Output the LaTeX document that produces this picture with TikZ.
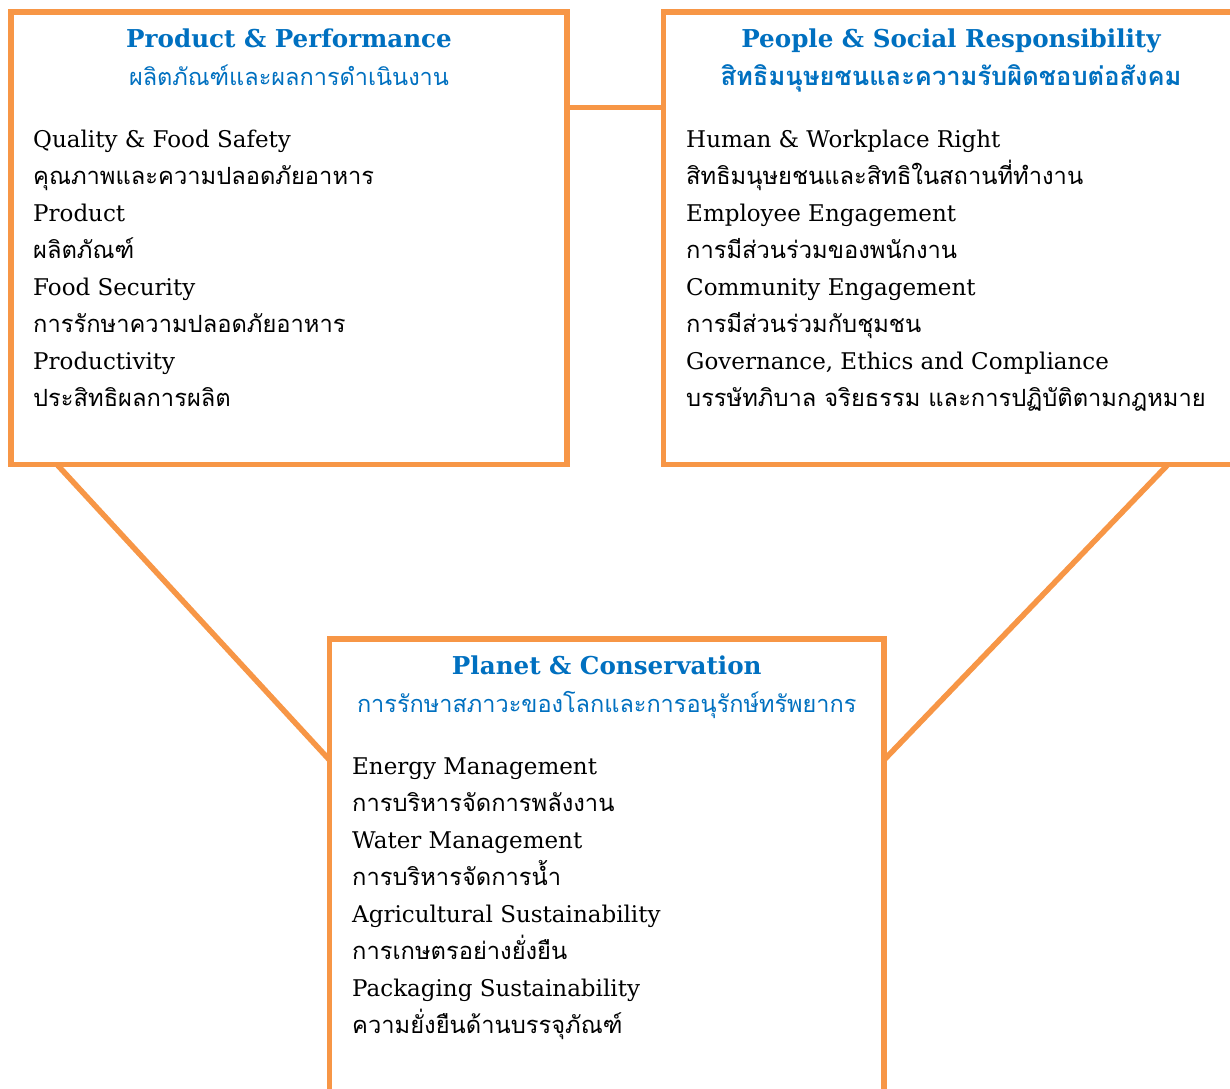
\documentclass[tikz,border=0pt]{standalone}
\usepackage{fontspec}
\setmainfont{DejaVu Serif}
\newfontfamily\thai[Script=Thai]{Loma}
\usetikzlibrary{calc}
\definecolor{borderorange}{HTML}{F79646}
\definecolor{titleblue}{HTML}{0070C0}
\tikzset{
  x=1pt, y=-1pt,
  box/.style={draw=borderorange, line width=5.5pt, fill=white, rectangle, outer sep=0pt, inner sep=0pt, anchor=north west},
  link/.style={draw=borderorange, line width=5.5pt},
  ttl/.style={font=\fontsize{24.6}{28}\selectfont\bfseries, text=titleblue, anchor=base, inner sep=0pt},
  sub/.style={font=\thai\fontsize{23.5}{26}\selectfont, text=titleblue, anchor=base, inner sep=0pt},
  en/.style={font=\fontsize{23}{26}\selectfont, anchor=base west, inner sep=0pt},
  th/.style={font=\thai\fontsize{23.7}{26}\selectfont, anchor=base west, inner sep=0pt},
}
\begin{document}
\begin{tikzpicture}
\useasboundingbox (0,0) rectangle (1230,1088);
\clip (0,0) rectangle (1230,1088);
\fill[white] (0,0) rectangle (1230,1088);
% boxes
\node[box, minimum width=556pt, minimum height=452.5pt] (b1) at (11,12) {};
\node[box, minimum width=575pt, minimum height=452.5pt] (b2) at (663.5,12) {};
\node[box, minimum width=554.5pt, minimum height=470pt] (b3) at (329.5,639) {};
% connectors
\coordinate (c1) at ($(b1.north east)+(0,95.5)$);
\draw[link] (c1) -- (c1 -| b2.west);
\coordinate (d1) at ($(b1.south west)+(46,0)$);
\coordinate (d2) at ($(b3.north west)+(0,121)$);
\draw[link] (d1) -- (d2);
\coordinate (e1) at ($(b2.south west)+(504.5,0)$);
\coordinate (e2) at ($(b3.north east)+(0,121)$);
\draw[link] (e1) -- (e2);
% box 1 text
\node[ttl] (t1) at ($(b1.north)+(0,35)$) {Product \& Performance};
\node[sub] (s1) at ($(b1.north)+(0,73)$) {ผลิตภัณฑ์และผลการดำเนินงาน};
\node[en] (a1) at ($(b1.north west)+(22,135)$) {Quality \& Food Safety};
\node[th] (a2) at ($(b1.north west)+(22,172)$) {คุณภาพและความปลอดภัยอาหาร};
\node[en] (a3) at ($(b1.north west)+(22,209)$) {Product};
\node[th] (a4) at ($(b1.north west)+(22,246)$) {ผลิตภัณฑ์};
\node[en] (a5) at ($(b1.north west)+(22,283)$) {Food Security};
\node[th] (a6) at ($(b1.north west)+(22,320)$) {การรักษาความปลอดภัยอาหาร};
\node[en] (a7) at ($(b1.north west)+(22,357)$) {Productivity};
\node[th] (a8) at ($(b1.north west)+(22,394)$) {ประสิทธิผลการผลิต};
% box 2 text
\coordinate (m2) at ($(b2.north west)+(287.5,0)$);
\node[ttl] (t2) at ($(m2)+(0,35)$) {People \& Social Responsibility};
\node[sub, font=\thai\fontsize{25.5}{28}\selectfont\bfseries] (s2) at ($(m2)+(0,73)$) {สิทธิมนุษยชนและความรับผิดชอบต่อสังคม};
\node[en] (p1) at ($(b2.north west)+(22.5,135)$) {Human \& Workplace Right};
\node[th] (p2) at ($(b2.north west)+(22.5,172)$) {สิทธิมนุษยชนและสิทธิในสถานที่ทำงาน};
\node[en] (p3) at ($(b2.north west)+(22.5,209)$) {Employee Engagement};
\node[th] (p4) at ($(b2.north west)+(22.5,246)$) {การมีส่วนร่วมของพนักงาน};
\node[en] (p5) at ($(b2.north west)+(22.5,283)$) {Community Engagement};
\node[th] (p6) at ($(b2.north west)+(22.5,320)$) {การมีส่วนร่วมกับชุมชน};
\node[en] (p7) at ($(b2.north west)+(22.5,357)$) {Governance, Ethics and Compliance};
\node[th] (p8) at ($(b2.north west)+(22.5,394)$) {บรรษัทภิบาล จริยธรรม และการปฏิบัติตามกฎหมาย};
% box 3 text
\node[ttl] (t3) at ($(b3.north)+(0,35)$) {Planet \& Conservation};
\node[sub] (s3) at ($(b3.north)+(0,73)$) {การรักษาสภาวะของโลกและการอนุรักษ์ทรัพยากร};
\node[en] (q1) at ($(b3.north west)+(22.5,135)$) {Energy Management};
\node[th] (q2) at ($(b3.north west)+(22.5,172)$) {การบริหารจัดการพลังงาน};
\node[en] (q3) at ($(b3.north west)+(22.5,209)$) {Water Management};
\node[th] (q4) at ($(b3.north west)+(22.5,246)$) {การบริหารจัดการน้ำ};
\node[en] (q5) at ($(b3.north west)+(22.5,283)$) {Agricultural Sustainability};
\node[th] (q6) at ($(b3.north west)+(22.5,320)$) {การเกษตรอย่างยั่งยืน};
\node[en] (q7) at ($(b3.north west)+(22.5,357)$) {Packaging Sustainability};
\node[th] (q8) at ($(b3.north west)+(22.5,394)$) {ความยั่งยืนด้านบรรจุภัณฑ์};
\end{tikzpicture}
\end{document}
